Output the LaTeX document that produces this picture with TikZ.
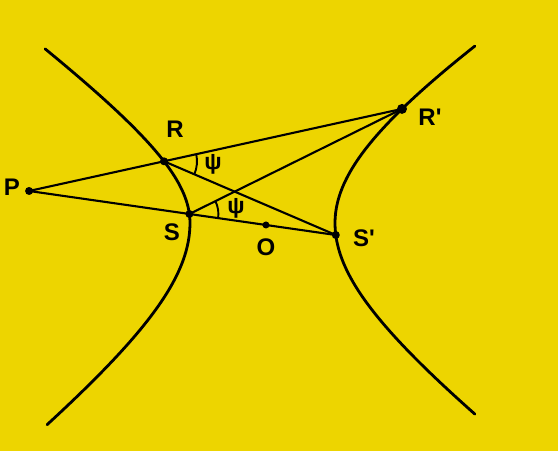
\documentclass[tikz,border=0pt]{standalone}
\usepackage{fontspec}
\setmainfont{Liberation Sans}
\usetikzlibrary{angles,calc}
\definecolor{bg}{RGB}{237,213,0}
\tikzset{
  curve/.style={line width=2.8pt, line cap=round, line join=round},
  ray/.style={line width=2.1pt, line cap=round},
  dot/.style={circle, fill=black, inner sep=0pt, minimum size=8pt},
  bigdot/.style={circle, fill=black, inner sep=0pt, minimum size=10pt},
  lbl/.style={font=\fontsize{24}{24}\selectfont\bfseries, inner sep=0pt},
  psilbl/.style={font=\fontsize{23}{23}\selectfont\bfseries, inner sep=0pt},
  arcmark/.style={draw, line width=1.9pt}
}
\begin{document}
\begin{tikzpicture}[x=1pt,y=1pt]
\fill[bg] (0,0) rectangle (558,451);
\useasboundingbox (0,0) rectangle (558,451);
% hyperbola branches
\draw[curve] plot[domain=-1.2363:0, samples=50, variable=\t] ({355-165*cosh(\t)}, {228+128*sinh(\t)})
  -- plot[domain=0:1.4047, samples=50, variable=\t] ({315-125*cosh(\t)}, {228+91*sinh(\t)});
\draw[curve] plot[domain=-1.2244:0, samples=50, variable=\t] ({170+165*cosh(\t)}, {228+123*sinh(\t)})
  -- plot[domain=0:1.1107, samples=50, variable=\t] ({130+205*cosh(\t)}, {228+130.8*sinh(\t)});
% points
\coordinate (R) at (164,289.7);
\coordinate (Rp) at (402,342.1);
\coordinate (S) at (189.4,237);
\coordinate (Sp) at (335.8,216);
\coordinate (P) at (intersection of R--Rp and S--Sp);
\coordinate (O) at ($(S)!0.523!(Sp)$);
% lines
\draw[ray] (P) -- (Rp);
\draw[ray] (P) -- (Sp);
\draw[ray] (R) -- (Sp);
\draw[ray] (S) -- (Rp);
% angle marks
\pic[arcmark, angle radius=33pt] {angle=Sp--R--Rp};
\pic[arcmark, angle radius=29pt] {angle=Sp--S--Rp};
% dots
\node[dot] (dP) at (P) {};
\node[dot] (dR) at (R) {};
\node[bigdot] (dRp) at (Rp) {};
\node[dot] (dS) at (S) {};
\node[dot] (dSp) at (Sp) {};
\node[dot, minimum size=7pt] (dO) at (O) {};
% labels
\node[lbl] (lP) at (12,264) {P};
\node[lbl] (lR) at (175,322) {R};
\node[lbl] (lS) at (172,219) {S};
\node[lbl] (lO) at (266,204) {O};
\node[lbl] (lSp) at (364,213) {S\textquotesingle};
\node[lbl] (lRp) at (430,334) {R\textquotesingle};
\node[psilbl] (psi1) at (213,287) {ψ};
\node[psilbl] (psi2) at (236,243) {ψ};
\end{tikzpicture}
\end{document}
